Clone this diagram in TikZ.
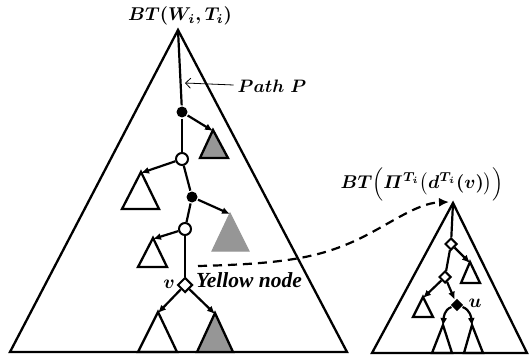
\documentclass[tikz,border=0pt]{standalone}
\usepackage{fontspec}
\usepackage{amsmath}
\usepackage{graphicx}
\newfontfamily\tnr{Liberation Serif}
\usetikzlibrary{arrows.meta,shapes.geometric}
\definecolor{tgray}{RGB}{150,150,150}
\newcommand{\scmath}[2]{\scalebox{#1}{\boldmath$#2$}}
\begin{document}
\begin{tikzpicture}[x=1pt,y=-1pt,line width=2.2pt,line join=miter,
  tri/.style={draw=black,line width=2.3pt},
  gtri/.style={draw=black,fill=tgray,line width=2.3pt},
  ltri/.style={draw=tgray,fill=tgray,line width=1pt},
  fdot/.style={circle,fill=black,inner sep=0pt,minimum size=11pt},
  odot/.style={circle,draw=black,fill=white,line width=2pt,inner sep=0pt,minimum size=12pt},
  dia/.style={diamond,draw=black,fill=white,line width=2pt,inner sep=0pt,minimum size=15pt},
  sdia/.style={diamond,draw=black,fill=white,line width=2pt,inner sep=0pt,minimum size=12pt},
  fdia/.style={diamond,fill=black,inner sep=0pt,minimum size=13pt},
  arr/.style={-{Latex[length=8pt,width=7pt]}},
  lbl/.style={inner sep=0pt}]
\useasboundingbox (0,0) rectangle (529,358);
% big left triangle
\draw[tri] (178,30) -- (10,352) -- (347,352) -- cycle;
% right triangle
\draw[tri] (453,203) -- (372,353) -- (527,353) -- cycle;
% left subtree triangles
\draw[gtri] (213,130) -- (200,158) -- (228,158) -- cycle;
\draw[tri] (141,172) -- (122,209) -- (159,209) -- cycle;
\draw[ltri] (230,213) -- (212,251) -- (249,251) -- cycle;
\draw[tri] (153,238) -- (138,267) -- (167,267) -- cycle;
\draw[tri] (158,312) -- (138,352) -- (177,352) -- cycle;
\draw[gtri] (215,313) -- (197,352) -- (233,352) -- cycle;
% right subtree triangles
\draw[tri] (470,262) -- (461,283) -- (480,283) -- cycle;
\draw[tri] (423,297) -- (413,317) -- (433,317) -- cycle;
\draw[tri] (443,325) -- (432,353) -- (452,353) -- cycle;
\draw[tri] (472,325) -- (464,353) -- (483,353) -- cycle;
% apex coordinates
\coordinate (rootL) at (178,30);
\coordinate (g1) at (213,131);
\coordinate (w1) at (141,173);
\coordinate (g2) at (230,214);
\coordinate (w2) at (153,239);
\coordinate (w3) at (158,313);
\coordinate (g3) at (215,314);
\coordinate (rootR) at (453,203);
\coordinate (t1) at (470,263);
\coordinate (t2) at (423,298);
\coordinate (t3) at (443,326);
\coordinate (t4) at (472,326);
% left path
\node[fdot] (d1) at (182,112) {};
\node[odot] (o1) at (182,159) {};
\node[fdot] (d2) at (192,197) {};
\node[odot] (o2) at (185,229) {};
\node[dia] (yv) at (185,285) {};
\draw (rootL) -- (d1);
\draw (d1) -- (o1);
\draw (o1) -- (d2);
\draw (d2) -- (o2);
\draw (o2) -- (yv);
\draw[arr] (d1) -- (g1);
\draw[arr] (o1) -- (w1);
\draw[arr] (d2) -- (g2);
\draw[arr] (o2) -- (w2);
\draw[arr] (yv) -- (w3);
\draw[arr] (yv) -- (g3);
% right path
\node[sdia] (r1) at (451,244) {};
\node[sdia] (r2) at (445,277) {};
\node[fdia] (ru) at (457,305) {};
\draw (rootR) -- (r1);
\draw (r1) -- (r2);
\draw[arr] (r1) -- (t1);
\draw[arr] (r2) -- (t2);
\draw[arr] (r2) -- (ru);
\draw[arr] (ru) to[out=-160,in=85] (t3);
\draw[arr] (ru) to[out=-20,in=95] (t4);
% labels
\node[lbl] (tl) at (180,16) {\scmath{1.85}{BT(W_i,T_i)}};
\node[lbl] (tr) at (422,184) {\scmath{1.85}{BT\Bigl(\varPi^{T_i}\bigl(d^{T_i}(v)\bigr)\Bigr)}};
\node[lbl] (pathP) at (272,86) {\scmath{1.8}{Path\ P}};
\node[lbl] (vl) at (169,284) {\scmath{1.9}{v}};
\node[lbl] (ul) at (475,303) {\scmath{1.9}{u}};
\node[inner sep=0pt,anchor=west,font=\fontsize{21.5}{24}\selectfont\tnr\bfseries\itshape] (yn) at (195,280) {Yellow node};
% path P arrow
\coordinate (pp) at (185,83);
\draw[line width=0.8pt,-{Straight Barb[length=5pt,width=10pt]}] (pathP.west) ++(-3,-1) -- (pp);
% dashed connector
\coordinate (ds) at (198,266);
\coordinate (dm) at (350,243);
\draw[line width=2.2pt,dash pattern=on 9pt off 6pt,-{Latex[length=10pt,width=9pt]}] (ds) .. controls (280,264) and (315,258) .. (dm) .. controls (385,228) and (415,203) .. (449,202);
\end{tikzpicture}
\end{document}
